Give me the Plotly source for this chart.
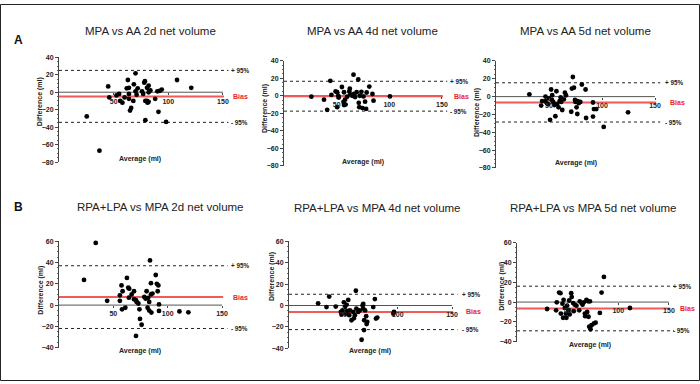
import plotly.graph_objects as go

W, H = 700, 384

titles = ["MPA vs AA 2d net volume", "MPA vs AA 4d net volume", "MPA vs AA 5d net volume",
          "RPA+LPA vs MPA 2d net volume", "RPA+LPA vs MPA 4d net volume", "RPA+LPA vs MPA 5d net volume"]

p1_avg = [25.4, 37, 45, 46, 52.6, 55, 56, 58, 60, 62, 63, 64, 64, 64, 65, 66, 68, 68.5, 70, 70, 71, 72,
          76, 77, 78, 78.6, 79, 79, 80.5, 80.5, 81, 82, 82, 82, 83.6, 88, 90, 91, 92, 94, 98, 108, 121]
p1_diff = [-27.7, -67, 6.7, -6, -3.7, -2, -10, -12, -6, 4.5, 14, 5, -2, -7.5, -21, -18, -10, 9, 1, 21.7, -3, 4.5,
           1, -2, 11, 12.7, -32, -10, 5, -10, -12, 7.5, 0, -11, 2, -7.5, 1, -22.5, 1.5, 3, -34, 14, 5]

p2_avg = [26, 38, 41, 44, 45, 49, 50.5, 50.5, 51.5, 52, 55, 56.5, 57, 57, 58, 58.5, 60, 62, 62.5, 63, 65,
          66, 66.5, 67.5, 69, 70.5, 71, 71.5, 72, 73.5, 74.5, 75.5, 77, 78, 78.5, 81, 84, 85, 100.6]
p2_diff = [-1, -4.5, -16, 17, 1, 5, 4, -13, 0, -2, 10, -7, -10.5, 4, -4.5, -10, -1, 5, 8, 1.5, 0,
           24, 2, -1.5, 4, 18.5, -8, -13, 0, 4.5, -14, -0.7, -6.7, -15, 3.7, 10.5, 2, -5.6, -0.7]

p3_avg = [31.5, 42.6, 43.5, 46.7, 48, 46.7, 49, 50, 51, 52, 52.7, 53, 54, 55, 56, 57, 57.5, 59, 60, 61, 61.5,
          62.5, 64, 65, 66, 71, 71.6, 72.5, 73.5, 74.5, 75, 76, 76.7, 77, 78, 79.5, 81, 84.5, 85, 91.5, 91.5,
          92.4, 94.6, 101.6, 124.6]
p3_diff = [2.6, -10, -5, -5, -7.5, 0, -8.5, -2, -26, 8, -3.7, 1.5, -6, -9.5, -22, 6, -8.5, -12, -5, -1, -6,
           -15, -3, 4.4, 1.5, -17, 9, 22, 10, -3.7, -6, -12, -19.5, -5, -7.4, -6, 13.6, 8, -24, -6.6, -22.4,
           -14, -14, -34, -17.6]

p4_avg = [23, 33.8, 44.3, 57.5, 58.5, 56, 56, 58, 61, 62.5, 63.7, 64.6, 64.3, 66.8, 69, 69, 70.8, 71.4, 73,
          74, 74.5, 76, 70.8, 78.5, 79.7, 80.6, 82, 83, 81.5, 83, 83.7, 84.6, 84.6, 85, 86, 89, 90, 91.4,
          90.8, 92, 92, 110.8, 119]
p4_diff = [23.7, 58.5, 4, 18.5, 13, 9.2, 4, -4, -2.5, 25.5, 16.3, 15.4, 7, 10, 13, 5.5, 4.6, 3, 1.5,
           -4, -13, -18.5, -29, 7.7, 6, 13, 6.8, 3, -2.5, -5.2, 42, 20.6, 10, -7, 10.8, 28.3, 20, 18.5,
           13, 0.6, -5.5, -6, -6.8]

p5_avg = [26.8, 34.5, 37, 43, 47.7, 48.3, 49.2, 50.5, 51.4, 52.3, 53, 53.5, 54.5, 55.4, 56, 57.5, 59, 59.7,
          60.6, 61.5, 62, 63.7, 65, 66.8, 67.7, 68.3, 68.3, 69, 69.2, 70, 71, 71.4, 72, 77.5, 79, 80, 81.2,
          96, 96.6]
p5_diff = [2, -1.5, 8.3, -1, -6, -8.3, -4.6, 3, -1.5, -7.6, 0.6, -5, 5.2, -9, -4.6, -13.8, -6, -12,
           -9, 13.8, -3, -6, -4.6, -32, 0, 1.5, -3, -23, -13.8, -4.6, -10, -17.4, -15.3, -1.5, 6, -12.2, -11.3,
           -7.6, -6]

p6_avg = [29.7, 38.6, 39.3, 41.6, 42.9, 43.3, 44.9, 45.5, 46, 47.2, 48.2, 48.8, 49.5, 50.8, 51.5, 52, 53.5,
          54, 55.4, 56, 57, 58.7, 61.4, 62, 63.7, 64.7, 66, 67, 67.3, 68.6, 69.3, 70.3, 70.6, 71.3, 72, 72.6,
          73.6, 76, 77.6, 81.8, 83.5, 85.8, 111.5]
p6_diff = [-7, -8.3, -0.3, 9.6, 9, -11.6, -1.6, -15.8, 2.3, -6, -11.6, -15.8, -3.6, -8.3, 1.6, -12.5, 9,
           5, -1, -9.2, -2.6, -3.6, -8.3, 0.7, -1, -2.6, -0.3, -11.6, -14.2, 2.3, -10, 0.7, -14.8, -24.8, 0.7,
           -27.4, -23.4, -21.5, -20.8, -11, 9.6, 25.4, -6]

bias = [-4.8, -0.5, -6.5, 7.5, -6.0, -6.5]
upper95 = [25.0, 16.5, 15.5, 37.0, 10.5, 16.0]
lower95 = [-34.5, -17.5, -28.5, -22.0, -22.5, -29.0]

x_ticks = [50, 100, 150]
y_ranges = [(-80, 40), (-80, 40), (-80, 40), (-40, 60), (-40, 60), (-40, 60)]

avgs = [p1_avg, p2_avg, p3_avg, p4_avg, p5_avg, p6_avg]
diffs = [p1_diff, p2_diff, p3_diff, p4_diff, p5_diff, p6_diff]

# layout geometry in pixels: x0 (value 0), px per unit, y top px, y bottom px
geo = [
    (59, 1.093, 54.3, 161.0),
    (284, 1.053, 57.7, 165.0),
    (496, 1.060, 58.0, 167.0),
    (59, 1.087, 241.7, 350.0),
    (289, 1.087, 241.7, 350.7),
    (517, 1.013, 243.0, 344.0),
]
XMAX = 156
title_pos = [(150, 27), (373, 28), (585, 28), (160, 207), (377, 208), (593, 208)]
xtitle_pos = [(140, 157.5), (363, 160.5), (576, 161.5), (140, 353), (370, 353), (590, 347)]
ytitle_pos = [(40, 100), (265, 107), (477, 110), (41, 292), (272, 278), (502, 288)]
# pixel x of side labels: (+/-95%, Bias)
lbl_px = [(229, 231), (448, 452), (663, 668), (229, 231), (460, 464), (671, 678)]

FONT = "Arial, Liberation Sans, sans-serif"
fig = go.Figure()
layout = dict(width=W, height=H, margin=dict(l=0, r=0, t=0, b=0), showlegend=False,
              plot_bgcolor="white", paper_bgcolor="white", font=dict(family=FONT, color="#222"))
annotations = []
for i in range(6):
    x0, u, yt, yb = geo[i]
    ymin, ymax = y_ranges[i]
    sfx = "" if i == 0 else str(i + 1)
    xa, ya = "x" + sfx, "y" + sfx
    zero_px = yt + (ymax - 0) / (ymax - ymin) * (yb - yt)

    def ypx(v):
        return yt + (ymax - v) / (ymax - ymin) * (yb - yt)

    layout["xaxis" + sfx] = dict(domain=[x0 / W, (x0 + XMAX * u) / W], range=[0, XMAX],
                                 anchor="free", position=1 - zero_px / H,
                                 showline=False, showgrid=False, zeroline=False,
                                 tickvals=x_ticks, ticks="outside", ticklen=2, tickcolor="#444",
                                 tickfont=dict(size=7, weight="bold", color="#222"))
    layout["yaxis" + sfx] = dict(domain=[1 - yb / H, 1 - yt / H], range=[ymin, ymax], anchor=xa,
                                 showline=True, linecolor="#444", linewidth=1, showgrid=False,
                                 zeroline=False, dtick=20, ticks="outside", ticklen=3, tickcolor="#444",
                                 minor=dict(ticks="outside", ticklen=1.5, dtick=5, tickcolor="#666"),
                                 tickfont=dict(size=7, weight="bold", color="#222"))
    fig.add_trace(go.Scatter(x=[0, 150], y=[0, 0], mode="lines", xaxis=xa, yaxis=ya,
                             line=dict(color="#555", width=1), hoverinfo="skip"))
    for v in (upper95[i], lower95[i]):
        fig.add_trace(go.Scatter(x=[0, 155], y=[v, v], mode="lines", xaxis=xa, yaxis=ya,
                                 line=dict(color="#222", width=1, dash="dot"), hoverinfo="skip"))
    fig.add_trace(go.Scatter(x=[0, 151], y=[bias[i], bias[i]], mode="lines", xaxis=xa, yaxis=ya,
                             line=dict(color="#f05a5a", width=2), hoverinfo="skip"))
    fig.add_trace(go.Scatter(x=avgs[i], y=diffs[i], mode="markers", xaxis=xa, yaxis=ya,
                             marker=dict(color="black", size=4.8), cliponaxis=False))
    lp, bp = lbl_px[i]
    for txt, v, xp, col, fs in (("+ 95%", upper95[i], lp, "#222", 6.3), ("- 95%", lower95[i], lp, "#222", 6.3),
                                ("Bias", bias[i], bp, "#e8262e", 7)):
        annotations.append(dict(x=xp / W, y=1 - ypx(v) / H, xref="paper", yref="paper", text=txt,
                                showarrow=False, xanchor="left", yanchor="middle",
                                font=dict(size=fs, weight="bold", color=col)))
    tx, ty = title_pos[i]
    annotations.append(dict(x=tx / W, y=1 - ty / H, xref="paper", yref="paper", text=titles[i], showarrow=False,
                            xanchor="center", yanchor="middle", font=dict(size=11.5, color="#222")))
    ax_, ay_ = xtitle_pos[i]
    annotations.append(dict(x=ax_ / W, y=1 - ay_ / H, xref="paper", yref="paper", text="Average (ml)",
                            showarrow=False, xanchor="center", yanchor="middle",
                            font=dict(size=7, weight="bold", color="#222")))
    yx_, yy_ = ytitle_pos[i]
    annotations.append(dict(x=yx_ / W, y=1 - yy_ / H, xref="paper", yref="paper", text="Difference (ml)",
                            showarrow=False, xanchor="center", yanchor="middle", textangle=-90,
                            font=dict(size=7, weight="bold", color="#222")))

for letter, (lx, ly) in (("A", (18, 37)), ("B", (18, 207))):
    annotations.append(dict(x=lx / W, y=1 - ly / H, xref="paper", yref="paper", text=letter, showarrow=False,
                            xanchor="center", yanchor="middle", font=dict(size=12, weight="bold", color="#111")))

layout["annotations"] = annotations
layout["shapes"] = [dict(type="rect", xref="paper", yref="paper", x0=0.0007, y0=0.0013, x1=0.9993, y1=0.9987,
                         line=dict(color="#222", width=1))]
fig.update_layout(**layout)
fig.write_html("out.html", config={"displayModeBar": False},
               post_script="document.body.style.margin='0';document.body.style.overflow='hidden';")
